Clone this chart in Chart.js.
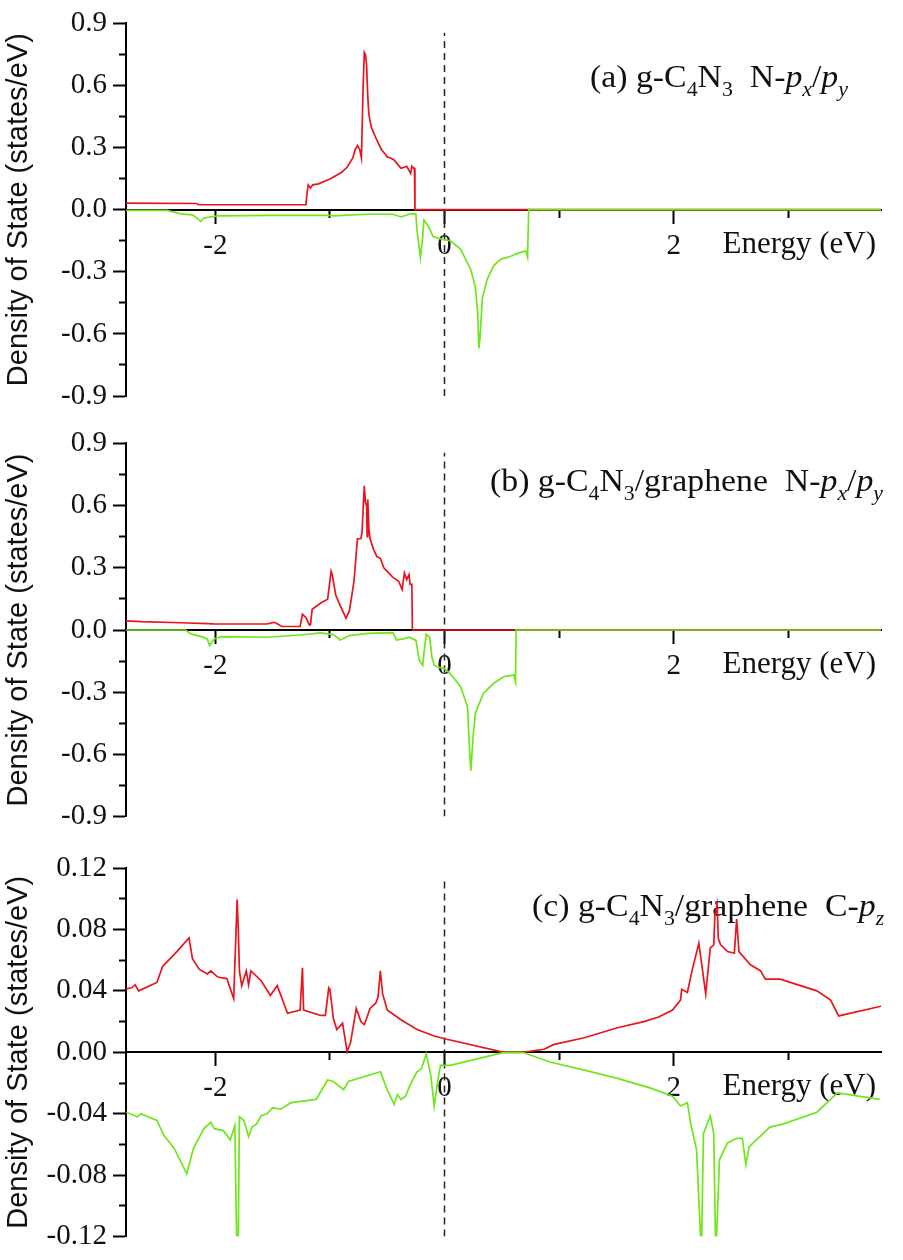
<!DOCTYPE html>
<html>
<head>
<meta charset="utf-8">
<title>PDOS g-C4N3 / graphene</title>
<script src="https://cdn.jsdelivr.net/npm/chart.js@4.4.1/dist/chart.umd.min.js"></script>
<style>
    html, body { margin: 0; padding: 0; background: #fff; }
    canvas { display: block; }
</style>
</head>
<body>
<canvas id="chartA" width="903" height="420"></canvas>
<canvas id="chartB" width="903" height="420"></canvas>
<canvas id="chartC" width="903" height="420"></canvas>
<script>
// energy axis (eV)
const energyMin = -2.78;
const energyMax = 3.81;
const fermiLevel = 0;
const energyMajorTicks = [-2, 0, 2];
const energyMinorTicks = [-1, 1, 3];

// DOS axes
const dosMajorTicksN = [-0.9, -0.6, -0.3, 0, 0.3, 0.6, 0.9];
const dosMinorTicksN = [-0.75, -0.45, -0.15, 0.15, 0.45, 0.75];
const dosMajorTicksC = [-0.12, -0.08, -0.04, 0, 0.04, 0.08, 0.12];
const dosMinorTicksC = [-0.1, -0.06, -0.02, 0.02, 0.06, 0.1];

// (a) g-C4N3, N-px/py
const aUpE = [-2.78, -2.16, -2.15, -1.21, -1.20, -1.19, -1.17, -1.15, -1.10, -1.00, -0.90, -0.85, -0.80, -0.78, -0.76, -0.74, -0.725, -0.71, -0.70, -0.69, -0.68, -0.67, -0.66, -0.64, -0.61, -0.585, -0.55, -0.52, -0.50, -0.47, -0.44, -0.41, -0.38, -0.35, -0.33, -0.31, -0.295, -0.285, -0.27, -0.262, -0.258, 3.81];
const aUpDos = [0.032, 0.030, 0.024, 0.024, 0.08, 0.12, 0.105, 0.12, 0.125, 0.148, 0.18, 0.205, 0.25, 0.29, 0.31, 0.29, 0.25, 0.60, 0.76, 0.75, 0.70, 0.55, 0.46, 0.40, 0.36, 0.33, 0.29, 0.27, 0.255, 0.25, 0.24, 0.22, 0.20, 0.205, 0.21, 0.19, 0.175, 0.21, 0.20, 0.20, 0, 0];
const aDownE = [-2.78, -2.42, -2.30, -2.20, -2.15, -2.13, -2.10, -1.98, -1.52, -1.00, -0.97, -0.67, -0.45, -0.38, -0.30, -0.25, -0.24, -0.21, -0.19, -0.18, -0.14, -0.10, -0.01, 0.05, 0.14, 0.23, 0.27, 0.29, 0.30, 0.31, 0.33, 0.37, 0.43, 0.49, 0.58, 0.64, 0.71, 0.725, 0.735, 3.81];
const aDownDos = [-0.003, -0.003, -0.02, -0.025, -0.045, -0.057, -0.04, -0.03, -0.027, -0.027, -0.03, -0.022, -0.022, -0.035, -0.02, -0.02, -0.10, -0.232, -0.13, -0.05, -0.08, -0.13, -0.145, -0.15, -0.19, -0.29, -0.375, -0.50, -0.67, -0.62, -0.43, -0.34, -0.27, -0.24, -0.225, -0.21, -0.20, -0.23, 0, 0];

// (b) g-C4N3/graphene, N-px/py
const bUpE = [-2.78, -2.65, -2.30, -2.01, -1.55, -1.49, -1.46, -1.42, -1.26, -1.24, -1.21, -1.18, -1.17, -1.155, -1.08, -1.02, -0.99, -0.98, -0.95, -0.92, -0.86, -0.83, -0.79, -0.76, -0.73, -0.72, -0.70, -0.69, -0.68, -0.675, -0.67, -0.66, -0.65, -0.62, -0.59, -0.56, -0.53, -0.50, -0.45, -0.40, -0.37, -0.35, -0.33, -0.31, -0.30, -0.285, -0.28, 3.81];
const bUpDos = [0.044, 0.040, 0.035, 0.030, 0.029, 0.037, 0.030, 0.017, 0.017, 0.076, 0.060, 0.025, 0.025, 0.10, 0.13, 0.148, 0.283, 0.267, 0.17, 0.13, 0.057, 0.092, 0.235, 0.44, 0.44, 0.47, 0.695, 0.616, 0.60, 0.45, 0.63, 0.49, 0.44, 0.39, 0.354, 0.346, 0.30, 0.283, 0.254, 0.235, 0.195, 0.275, 0.243, 0.267, 0.22, 0.22, 0, 0];
const bDownE = [-2.78, -2.26, -2.21, -2.12, -2.07, -2.05, -2.01, -1.95, -1.55, -1.26, -1.08, -0.97, -0.91, -0.83, -0.67, -0.45, -0.42, -0.36, -0.31, -0.25, -0.22, -0.19, -0.18, -0.16, -0.13, -0.11, -0.09, -0.06, 0.0, 0.05, 0.14, 0.20, 0.22, 0.23, 0.25, 0.27, 0.34, 0.43, 0.52, 0.605, 0.62, 0.625, 3.81];
const bDownDos = [0, 0, -0.02, -0.032, -0.043, -0.075, -0.043, -0.032, -0.035, -0.024, -0.014, -0.022, -0.048, -0.027, -0.016, -0.013, -0.048, -0.043, -0.035, -0.05, -0.146, -0.17, -0.114, -0.02, -0.035, -0.13, -0.17, -0.178, -0.186, -0.21, -0.273, -0.368, -0.59, -0.678, -0.51, -0.40, -0.305, -0.257, -0.225, -0.217, -0.25, 0, 0];

// (c) g-C4N3/graphene, C-pz
const cUpE = [-2.78, -2.73, -2.70, -2.67, -2.51, -2.46, -2.42, -2.33, -2.23, -2.20, -2.14, -2.07, -2.04, -1.98, -1.90, -1.84, -1.81, -1.80, -1.79, -1.77, -1.73, -1.71, -1.69, -1.60, -1.52, -1.46, -1.37, -1.26, -1.24, -1.23, -1.08, -1.04, -1.01, -1.00, -0.97, -0.94, -0.89, -0.85, -0.82, -0.77, -0.73, -0.70, -0.68, -0.65, -0.60, -0.58, -0.56, -0.54, -0.50, -0.38, -0.24, -0.09, 0.02, 0.05, 0.52, 0.68, 0.87, 0.95, 1.22, 1.51, 1.74, 1.87, 1.99, 2.06, 2.07, 2.12, 2.16, 2.22, 2.28, 2.32, 2.35, 2.36, 2.38, 2.39, 2.41, 2.47, 2.53, 2.55, 2.57, 2.67, 2.76, 2.80, 2.93, 3.25, 3.37, 3.44, 3.81];
const cUpDos = [0.0413, 0.042, 0.044, 0.040, 0.0455, 0.056, 0.059, 0.066, 0.0745, 0.061, 0.054, 0.051, 0.053, 0.049, 0.048, 0.035, 0.0995, 0.080, 0.053, 0.0434, 0.053, 0.044, 0.053, 0.0466, 0.037, 0.0434, 0.0254, 0.0275, 0.055, 0.0275, 0.024, 0.024, 0.042, 0.041, 0.022, 0.0148, 0.019, 0.0004, 0.0063, 0.0286, 0.02, 0.018, 0.022, 0.0286, 0.032, 0.036, 0.053, 0.038, 0.0275, 0.0212, 0.0148, 0.0106, 0.0085, 0.008, 0, 0, 0.002, 0.005, 0.0095, 0.016, 0.020, 0.023, 0.0275, 0.034, 0.041, 0.039, 0.053, 0.071, 0.038, 0.068, 0.070, 0.089, 0.0963, 0.074, 0.070, 0.0656, 0.0645, 0.0868, 0.0656, 0.057, 0.053, 0.0476, 0.0476, 0.040, 0.034, 0.0237, 0.030];
const cDownE = [-2.78, -2.68, -2.65, -2.51, -2.45, -2.36, -2.25, -2.19, -2.10, -2.04, -2.01, -1.93, -1.87, -1.83, -1.815, -1.80, -1.79, -1.75, -1.71, -1.68, -1.64, -1.60, -1.55, -1.50, -1.43, -1.34, -1.12, -1.02, -0.97, -0.88, -0.84, -0.56, -0.50, -0.44, -0.41, -0.38, -0.34, -0.30, -0.24, -0.20, -0.16, -0.12, -0.09, -0.06, -0.035, 0.05, 0.52, 0.68, 0.92, 1.22, 1.51, 1.80, 1.99, 2.06, 2.12, 2.15, 2.20, 2.235, 2.245, 2.26, 2.32, 2.35, 2.365, 2.375, 2.40, 2.47, 2.55, 2.60, 2.63, 2.66, 2.84, 2.96, 3.25, 3.43, 3.80];
const cDownDos = [-0.039, -0.042, -0.040, -0.0444, -0.054, -0.0624, -0.079, -0.0624, -0.0497, -0.0455, -0.0497, -0.051, -0.057, -0.0476, -0.1196, -0.1196, -0.042, -0.0444, -0.055, -0.0487, -0.0466, -0.0413, -0.040, -0.036, -0.037, -0.0328, -0.0307, -0.018, -0.019, -0.0243, -0.019, -0.0127, -0.0243, -0.0339, -0.0275, -0.0307, -0.0286, -0.0212, -0.0127, -0.0106, -0.001, -0.0148, -0.035, -0.019, -0.0085, -0.0085, 0, 0, -0.0063, -0.0116, -0.017, -0.0233, -0.0286, -0.035, -0.0328, -0.0466, -0.0635, -0.1196, -0.1196, -0.053, -0.0413, -0.053, -0.12, -0.12, -0.07, -0.059, -0.056, -0.056, -0.073, -0.0614, -0.0487, -0.0466, -0.039, -0.0265, -0.0307];

// panel captions: [text, style]
const captionA = [['(a) g-C', ''], ['4', 'sub'], ['N', ''], ['3', 'sub'], ['  N-', ''], ['p', 'it'], ['x', 'itsub'], ['/', ''], ['p', 'it'], ['y', 'itsub']];
const captionB = [['(b) g-C', ''], ['4', 'sub'], ['N', ''], ['3', 'sub'], ['/graphene  N-', ''], ['p', 'it'], ['x', 'itsub'], ['/', ''], ['p', 'it'], ['y', 'itsub']];
const captionC = [['(c) g-C', ''], ['4', 'sub'], ['N', ''], ['3', 'sub'], ['/graphene  C-', ''], ['p', 'it'], ['z', 'itsub']];
const energyCaption = [['Energy (eV)', '']];

const SERIF = '"Liberation Serif", "Times New Roman", serif';
const SANS = '"Liberation Sans", Arial, sans-serif';
const RED = '#e8141e';
const GREEN = '#6fe61a';

function partFont(style, size) {
    const s = style.includes('sub') ? Math.round(size * 0.66) : size;
    return (style.startsWith('it') ? 'italic ' : '') + s + 'px ' + SERIF;
}

// draws the captions (with sub-scripts) underneath the curves
const captionPlugin = {
    id: 'captions',
    beforeDatasetsDraw(chart, args, opts) {
        const ctx = chart.ctx;
        const area = chart.chartArea;
        const zeroY = chart.scales.y.getPixelForValue(0);
        opts.items.forEach(item => {
            ctx.save();
            ctx.fillStyle = '#111';
            ctx.textBaseline = 'alphabetic';
            ctx.textAlign = 'left';
            let width = 0;
            item.parts.forEach(p => {
                ctx.font = partFont(p[1], item.size);
                width += ctx.measureText(p[0]).width;
            });
            const sx = item.scaleX || 1;
            const x = item.right !== undefined ? area.right - item.right - width * sx : area.left + item.left;
            const y = item.fromAxis ? zeroY + item.dy : area.top + item.dy;
            ctx.translate(x, y);
            ctx.scale(sx, 1);
            let cx = 0;
            item.parts.forEach(p => {
                ctx.font = partFont(p[1], item.size);
                ctx.fillText(p[0], cx, p[1].includes('sub') ? item.size * 0.28 : 0);
                cx += ctx.measureText(p[0]).width;
            });
            ctx.restore();
        });
    }
};

function tickList(major, minor) {
    return major.map(v => ({ value: v, major: true }))
        .concat(minor.map(v => ({ value: v, major: false })))
        .sort((a, b) => a.value - b.value);
}

function points(es, vs) {
    return es.map((e, i) => ({ x: e, y: vs[i] }));
}

function makePanel(id, p) {
    const ctx = document.getElementById(id).getContext('2d');
    const tickFont = { family: SERIF, size: 29 };
    new Chart(ctx, {
        type: 'line',
        data: {
            datasets: [
                {
                    data: points(p.downE, p.downDos),
                    borderColor: GREEN,
                    borderWidth: 1.7,
                    pointRadius: 0,
                    order: 1
                },
                {
                    data: points(p.upE, p.upDos),
                    borderColor: RED,
                    borderWidth: 1.7,
                    pointRadius: 0,
                    order: 2
                },
                {
                    data: [{ x: fermiLevel, y: p.yMin }, { x: fermiLevel, y: p.yMax * 0.95 }],
                    borderColor: '#222',
                    borderWidth: 1.5,
                    borderDash: [7, 5],
                    pointRadius: 0,
                    order: 3
                }
            ]
        },
        options: {
            responsive: false,
            animation: false,
            events: [],
            layout: { padding: { left: 0, right: 22, top: p.padTop, bottom: p.padBottom } },
            plugins: {
                legend: { display: false },
                tooltip: { enabled: false },
                captions: {
                    items: [
                        { parts: p.caption, size: 31, scaleX: 1.09, left: p.capLeft, dy: p.capDy },
                        { parts: energyCaption, size: 31, right: 5, fromAxis: true, dy: 43 }
                    ]
                }
            },
            scales: {
                x: {
                    type: 'linear',
                    min: energyMin,
                    max: energyMax,
                    position: { y: 0 },
                    afterBuildTicks: s => { s.ticks = tickList(energyMajorTicks, energyMinorTicks); },
                    grid: {
                        drawOnChartArea: false,
                        tickLength: 13,
                        tickWidth: 2,
                        tickColor: '#000',
                        tickBorderDash: c => (c.tick && !c.tick.major) ? [7, 20] : []
                    },
                    border: { color: '#000', width: 2 },
                    ticks: {
                        autoSkip: false,
                        maxRotation: 0,
                        padding: 6,
                        color: '#111',
                        font: tickFont,
                        callback: (v, i, ticks) => ticks[i].major ? String(v) : ''
                    }
                },
                y: {
                    min: p.yMin,
                    max: p.yMax,
                    position: 'left',
                    afterBuildTicks: s => { s.ticks = tickList(p.major, p.minor); },
                    afterFit: s => { s.width = 126; },
                    grid: {
                        drawOnChartArea: false,
                        tickLength: 13,
                        tickWidth: 2,
                        tickColor: '#000',
                        tickBorderDash: c => (c.tick && !c.tick.major) ? [7, 6] : [],
                        tickBorderDashOffset: c => (c.tick && !c.tick.major) ? 7 : 0
                    },
                    border: { color: '#000', width: 2 },
                    ticks: {
                        autoSkip: false,
                        padding: 6,
                        color: '#111',
                        font: tickFont,
                        callback: (v, i, ticks) => ticks[i].major ? v.toFixed(p.digits) : ''
                    },
                    title: {
                        display: true,
                        text: 'Density of State (states/eV)',
                        color: '#111',
                        font: { family: SANS, size: 29 },
                        padding: { top: 2, bottom: 0 }
                    }
                }
            }
        },
        plugins: [captionPlugin]
    });
}

document.addEventListener('DOMContentLoaded', function () {
    makePanel('chartA', {
        upE: aUpE, upDos: aUpDos, downE: aDownE, downDos: aDownDos,
        yMin: -0.9, yMax: 0.9, major: dosMajorTicksN, minor: dosMinorTicksN, digits: 1,
        padTop: 16, padBottom: 24, caption: captionA, capLeft: 464, capDy: 64
    });
    makePanel('chartB', {
        upE: bUpE, upDos: bUpDos, downE: bDownE, downDos: bDownDos,
        yMin: -0.9, yMax: 0.9, major: dosMajorTicksN, minor: dosMinorTicksN, digits: 1,
        padTop: 20, padBottom: 22, caption: captionB, capLeft: 364, capDy: 48
    });
    makePanel('chartC', {
        upE: cUpE, upDos: cUpDos, downE: cDownE, downDos: cDownDos,
        yMin: -0.12, yMax: 0.12, major: dosMajorTicksC, minor: dosMinorTicksC, digits: 2,
        padTop: 28, padBottom: 14, caption: captionC, capLeft: 406, capDy: 48
    });
});
</script>
</body>
</html>
